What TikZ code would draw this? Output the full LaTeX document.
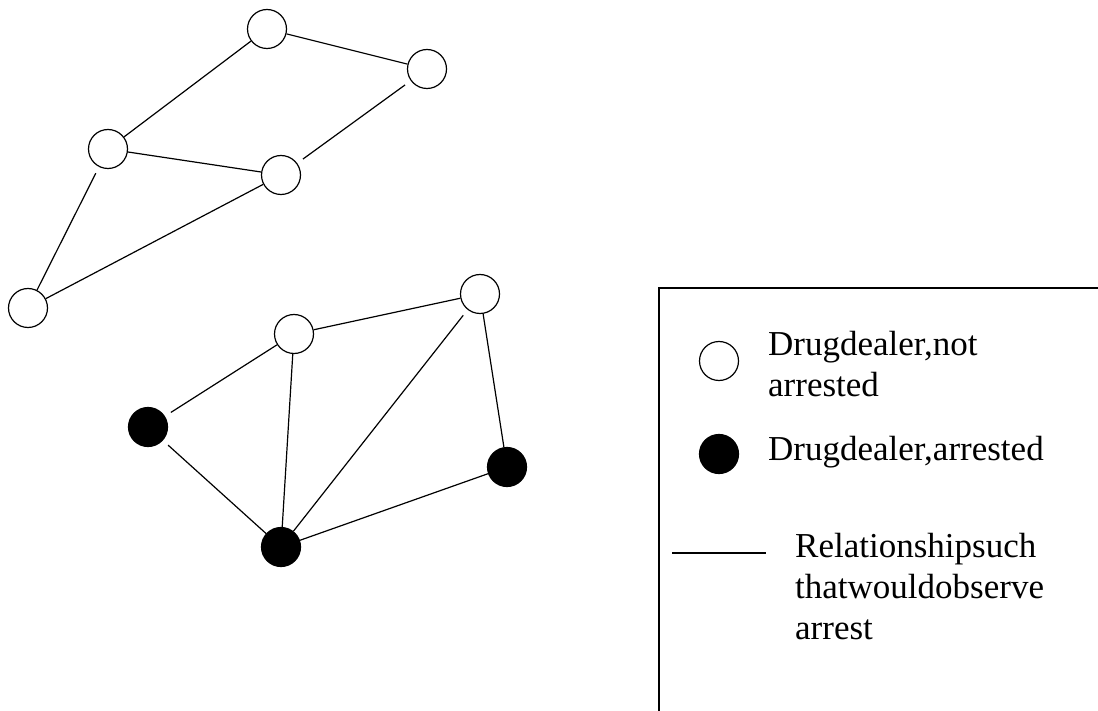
\documentclass[tikz,border=0pt]{standalone}
\usepackage{fontspec}
\setmainfont{Liberation Serif}
\usetikzlibrary{positioning}
\tikzset{
  dealer/.style={draw, circle, minimum size=39pt, inner sep=0pt, line width=1.2pt, fill=white},
  caught/.style={dealer, fill=black},
  tie/.style={line width=1.2pt},
  lbl/.style={anchor=base west, inner sep=0pt, align=left, font=\fontsize{35}{41}\selectfont},
}
\begin{document}
\begin{tikzpicture}[x=1pt, y=-1pt]
\useasboundingbox (0,0) rectangle (1098,711);
% dealers
\foreach \n/\x/\y in {a/267/29, b/427/69, c/108/149, d/281/175, e/28/308, f/294/334, g/480/294}{\node[dealer] (\n) at (\x,\y) {};}
\foreach \n/\x/\y in {h/148/427, i/507/467, j/281/547}{\node[caught] (\n) at (\x,\y) {};}
% relationships
\foreach \u/\v in {a/b, a/c, c/d, e/d, f/g, f/j, g/i, j/i}{\draw[tie] (\u) -- (\v);}
\draw[tie, shorten <=7pt, shorten >=7pt] (b) -- (d);
\draw[tie, shorten <=7pt] (c) -- (e);
\draw[tie, shorten >=7pt] (f) -- (h);
\draw[tie, shorten <=7pt] (g) -- (j);
\draw[tie, shorten <=7pt] (h) -- (j);
% legend
\coordinate (k1) at (659,711); \coordinate (k2) at (659,288); \coordinate (k3) at (1098,288);
\draw[tie] (k1) -- (k2) -- (k3);
\node[dealer] (lw) at (719,361) {};
\node[caught] (lb) at (719,454) {};
\coordinate (s1) at (672,553); \coordinate (s2) at (766,553);
\draw[tie] (s1) -- (s2);
\node[lbl] (tw) at (768,396) {Drugdealer,not\\arrested};
\node[lbl] (tb) at (768,460) {Drugdealer,arrested};
\node[lbl] (ts) at (795,639) {Relationshipsuch\\thatwouldobserve\\arrest};
\end{tikzpicture}
\end{document}
